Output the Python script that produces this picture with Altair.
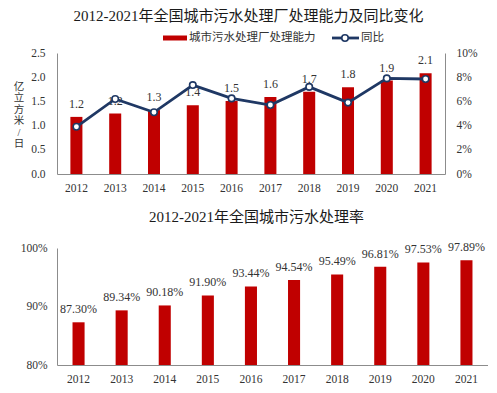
import altair as alt
import pandas as pd

years = ["2012", "2013", "2014", "2015", "2016", "2017", "2018", "2019", "2020", "2021"]
capacity = [1.18, 1.25, 1.32, 1.42, 1.51, 1.59, 1.70, 1.79, 1.93, 2.08]
capacity_labels = ["1.2", "1.2", "1.3", "1.4", "1.5", "1.6", "1.7", "1.8", "1.9", "2.1"]
yoy = [0.039, 0.062, 0.051, 0.0735, 0.0625, 0.057, 0.072, 0.059, 0.079, 0.0785]
rate = [0.8730, 0.8934, 0.9018, 0.9190, 0.9344, 0.9454, 0.9549, 0.9681, 0.9753, 0.9789]

series_bar = "城市污水处理厂处理能力"
series_line = "同比"
title_top = "2012-2021年全国城市污水处理厂处理能力及同比变化"
title_bottom = "2012-2021年全国城市污水处理率"
y_title = ["亿", "立", "方", "米", "/", "日"]

RED = "#C00000"
NAVY = "#1F3864"
GRAY = "#8c8c8c"
TXT = "#333333"
FONT = "'Liberation Serif', 'Noto Sans CJK SC', serif"

df1 = pd.DataFrame({"year": years, "cap": capacity, "lab": capacity_labels, "yoy": yoy})
df2 = pd.DataFrame({"year": years, "rate": rate})
one = pd.DataFrame({"k": [0]})

x_top = alt.X(
    "year:N",
    scale=alt.Scale(paddingInner=0.69, paddingOuter=0.345),
    axis=alt.Axis(title=None, labelAngle=0, ticks=False, domainColor=GRAY, domainWidth=1,
                  labelPadding=8, labelFont=FONT, labelFontSize=11.5, labelColor=TXT),
)
y_cap = alt.Y(
    "cap:Q",
    scale=alt.Scale(domain=[0, 2.5]),
    axis=alt.Axis(values=[0, 0.5, 1.0, 1.5, 2.0, 2.5], format=".1f", grid=False, ticks=False,
                  domainColor=GRAY, domainWidth=1, labelPadding=12, labelFont=FONT,
                  labelFontSize=11.5, labelColor=TXT, labelOverlap=False, title=None),
)
y_yoy = alt.Y(
    "yoy:Q",
    scale=alt.Scale(domain=[0, 0.10]),
    axis=alt.Axis(orient="right", values=[0, 0.02, 0.04, 0.06, 0.08, 0.10], format=".0%",
                  grid=False, ticks=False, domainColor=GRAY, domainWidth=1, labelPadding=11,
                  labelOverlap=False,
                  labelFont=FONT, labelFontSize=11.5, labelColor=TXT, title=None),
)

bars = alt.Chart(df1).mark_bar(color=RED).encode(x=x_top, y=y_cap)
bar_labels = alt.Chart(df1).mark_text(baseline="bottom", dy=-6, font=FONT, fontSize=12,
                                      color=TXT).encode(x=x_top, y=y_cap, text="lab:N")
line = alt.Chart(df1).mark_line(color=NAVY, strokeWidth=2.8).encode(x=x_top, y=y_yoy)
pts = alt.Chart(df1).mark_point(filled=True, fill="white", stroke=NAVY, strokeWidth=1.6,
                                size=42, opacity=1).encode(x=x_top, y=y_yoy)

ytitle = alt.Chart(one).mark_text(align="center", baseline="top", font=FONT, fontSize=10.5,
                                  lineHeight=11.4, color=TXT, text=y_title).encode(
    x=alt.value(-38), y=alt.value(29))

leg_rect = alt.Chart(one).mark_rect(color=RED).encode(
    x=alt.value(106), x2=alt.value(130), y=alt.value(-17.5), y2=alt.value(-12.5))
leg_t1 = alt.Chart(one).mark_text(align="left", baseline="middle", font=FONT, fontSize=11.5,
                                  color=TXT, text=series_bar).encode(
    x=alt.value(132), y=alt.value(-15))
leg_rule = alt.Chart(one).mark_rule(color=NAVY, strokeWidth=2.8).encode(
    x=alt.value(275), x2=alt.value(302), y=alt.value(-15))
leg_pt = alt.Chart(one).mark_point(filled=True, fill="white", stroke=NAVY, strokeWidth=1.6,
                                   size=42, opacity=1).encode(
    x=alt.value(288), y=alt.value(-15))
leg_t2 = alt.Chart(one).mark_text(align="left", baseline="middle", font=FONT, fontSize=11.5,
                                  color=TXT, text=series_line).encode(
    x=alt.value(304), y=alt.value(-15))

top = alt.layer(
    alt.layer(bars, bar_labels),
    alt.layer(line, pts),
    ytitle, leg_rect, leg_t1, leg_rule, leg_pt, leg_t2,
).resolve_scale(y="independent").properties(
    width=388, height=121,
    title=alt.TitleParams(title_top, font=FONT, fontSize=15, fontWeight="normal",
                          color="#1a1a1a", anchor="middle", frame="group", dx=-2.5, offset=8),
)

x_bot = alt.X(
    "year:N",
    scale=alt.Scale(paddingInner=0.72, paddingOuter=0.36),
    axis=alt.Axis(title=None, labelAngle=0, ticks=False, domainColor=GRAY, domainWidth=1,
                  labelPadding=8, labelFont=FONT, labelFontSize=11.5, labelColor=TXT),
)
y_rate = alt.Y(
    "rate:Q",
    scale=alt.Scale(domain=[0.8, 1.0], zero=False),
    axis=alt.Axis(values=[0.8, 0.9, 1.0], format=".0%", grid=False, ticks=False,
                  domainColor=GRAY, domainWidth=1, labelPadding=10, labelFont=FONT,
                  labelFontSize=11.5, labelColor=TXT, labelOverlap=False, title=None,
                  minExtent=49),
)
bars2 = alt.Chart(df2).mark_bar(color=RED).encode(x=x_bot, y=y_rate, y2=alt.datum(0.8))
labels2 = alt.Chart(df2).mark_text(baseline="bottom", dy=-6, font=FONT, fontSize=12,
                                   color=TXT).encode(
    x=x_bot, y=y_rate, text=alt.Text("rate:Q", format=".2%"))

bottom = alt.layer(bars2, labels2).properties(
    width=431, height=117,
    title=alt.TitleParams(title_bottom, font=FONT, fontSize=15, fontWeight="normal",
                          color="#1a1a1a", anchor="middle", frame="group", dx=-16, offset=16),
)

chart = alt.vconcat(top, bottom, spacing=16).properties(
    padding=0, background="white"
).configure_view(stroke=None)

chart.save("out.html", embed_options={"renderer": "svg", "actions": False})
